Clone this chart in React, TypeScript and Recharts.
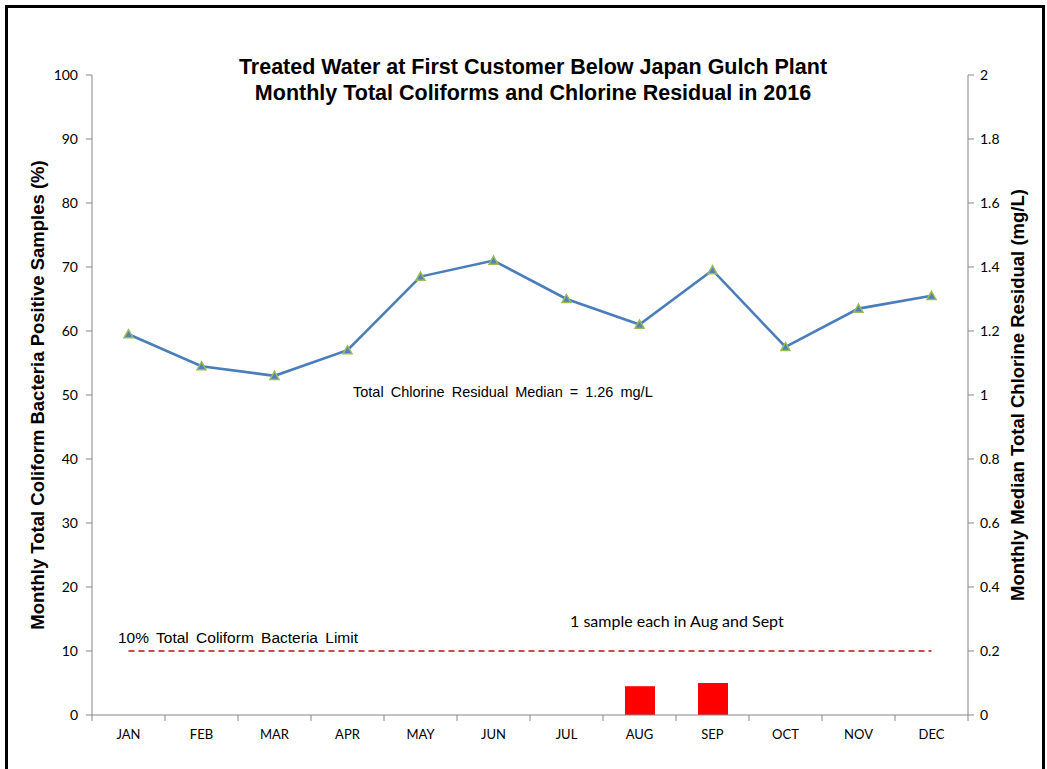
import { ComposedChart, Bar, Line, XAxis, YAxis } from "recharts";

const months = ["JAN", "FEB", "MAR", "APR", "MAY", "JUN", "JUL", "AUG", "SEP", "OCT", "NOV", "DEC"];
const positivePct = [0, 0, 0, 0, 0, 0, 0, 4.5, 5.0, 0, 0, 0];
const chlorineMedian = [1.19, 1.09, 1.06, 1.14, 1.37, 1.42, 1.3, 1.22, 1.39, 1.15, 1.27, 1.31];
const coliformLimit = [10, 10, 10, 10, 10, 10, 10, 10, 10, 10, 10, 10];
const leftTicks = [0, 10, 20, 30, 40, 50, 60, 70, 80, 90, 100];
const rightTicks = [0, 0.2, 0.4, 0.6, 0.8, 1, 1.2, 1.4, 1.6, 1.8, 2];

const data = months.map((m, i) => ({
  month: m,
  pct: positivePct[i],
  chlorine: chlorineMedian[i],
  limit: coliformLimit[i],
}));

const W = 1047;
const H = 769;
const plotLeft = 92;
const plotRight = 968;
const band = (plotRight - plotLeft) / months.length;
const tickFont = "Lato, 'Open Sans', sans-serif";

function Triangle(props: any) {
  const { cx, cy } = props;
  if (cx == null || cy == null) return null;
  const s = 4.5;
  return (
    <path
      d={`M${cx},${cy - s} L${cx + s},${cy + s * 0.8} L${cx - s},${cy + s * 0.8} Z`}
      fill="#4F81BD"
      stroke="#9BBB59"
      strokeWidth={1.5}
    />
  );
}

function MonthTick(props: any) {
  const { x, y, payload, index } = props;
  const left = x - band / 2;
  return (
    <g>
      <line x1={left} y1={y - 8} x2={left} y2={y - 2} stroke="#868686" />
      {index === months.length - 1 && (
        <line x1={left + band} y1={y - 8} x2={left + band} y2={y - 2} stroke="#868686" />
      )}
      <text x={x} y={y + 16} textAnchor="middle" fontSize={13} fontFamily={tickFont} fill="#000">
        {payload.value}
      </text>
    </g>
  );
}

export default function App() {
  return (
    <div style={{ position: "absolute", left: 0, top: 0, width: W, height: H, background: "#fff" }}>
      <div
        style={{
          position: "absolute",
          left: 5,
          top: 5,
          width: 1034,
          height: 780,
          borderLeft: "3px solid #000",
          borderTop: "3px solid #000",
          borderRight: "3px solid #000",
        }}
      />
      <ComposedChart
        width={W}
        height={H}
        data={data}
        margin={{ top: 75, right: 19, bottom: 24, left: 32 }}
        style={{ position: "absolute", left: 0, top: 0 }}
      >
        <XAxis
          dataKey="month"
          xAxisId="x"
          stroke="#868686"
          tickLine={false}
          tick={<MonthTick />}
          height={30}
          interval={0}
        />
        <YAxis
          yAxisId="left"
          orientation="left"
          domain={[0, 100]}
          ticks={leftTicks}
          width={60}
          stroke="#868686"
          tickSize={6}
          tickMargin={8}
          tick={{ fontSize: 14, fontFamily: tickFont, fill: "#000" }}
          interval={0}
        />
        <YAxis
          yAxisId="right"
          orientation="right"
          domain={[0, 2]}
          ticks={rightTicks}
          width={60}
          stroke="#868686"
          tickSize={6}
          tickMargin={6}
          tickFormatter={(v: number) => String(Number(v.toFixed(1)))}
          tick={{ fontSize: 14, fontFamily: tickFont, fill: "#000" }}
          interval={0}
        />
        <Bar
          xAxisId="x"
          yAxisId="left"
          dataKey="pct"
          fill="#FF0000"
          barSize={30}
          isAnimationActive={false}
        />
        <Line
          xAxisId="x"
          yAxisId="left"
          dataKey="limit"
          stroke="#C0504D"
          strokeWidth={2.2}
          strokeDasharray="6 4"
          dot={false}
          activeDot={false}
          isAnimationActive={false}
        />
        <Line
          xAxisId="x"
          yAxisId="right"
          dataKey="chlorine"
          stroke="#4A7EBB"
          strokeWidth={2.6}
          dot={<Triangle />}
          activeDot={false}
          isAnimationActive={false}
        />
      </ComposedChart>
      <svg
        width={W}
        height={H}
        style={{ position: "absolute", left: 0, top: 0, pointerEvents: "none" }}
        fontFamily="'Liberation Sans', Arial, sans-serif"
      >
        <text x={533} y={74} textAnchor="middle" fontSize={21.5} fontWeight="bold">
          Treated Water at First Customer Below Japan Gulch Plant
        </text>
        <text x={533} y={100} textAnchor="middle" fontSize={21.5} fontWeight="bold">
          Monthly Total Coliforms and Chlorine Residual in 2016
        </text>
        <text
          transform="translate(44, 395) rotate(-90)"
          textAnchor="middle"
          fontSize={18.5}
          fontWeight="bold"
        >
          Monthly Total Coliform Bacteria Positive Samples (%)
        </text>
        <text
          transform="translate(1024, 395) rotate(-90)"
          textAnchor="middle"
          fontSize={18.5}
          fontWeight="bold"
        >
          Monthly Median Total Chlorine Residual (mg/L)
        </text>
        <text x={353} y={397} fontSize={14.5} wordSpacing={3}>
          Total Chlorine Residual Median = 1.26 mg/L
        </text>
        <text x={118} y={643} fontSize={15.5} wordSpacing={3}>
          10% Total Coliform Bacteria Limit
        </text>
        <text x={570} y={627} fontSize={16} fontFamily={tickFont}>
          1 sample each in Aug and Sept
        </text>
      </svg>
    </div>
  );
}
